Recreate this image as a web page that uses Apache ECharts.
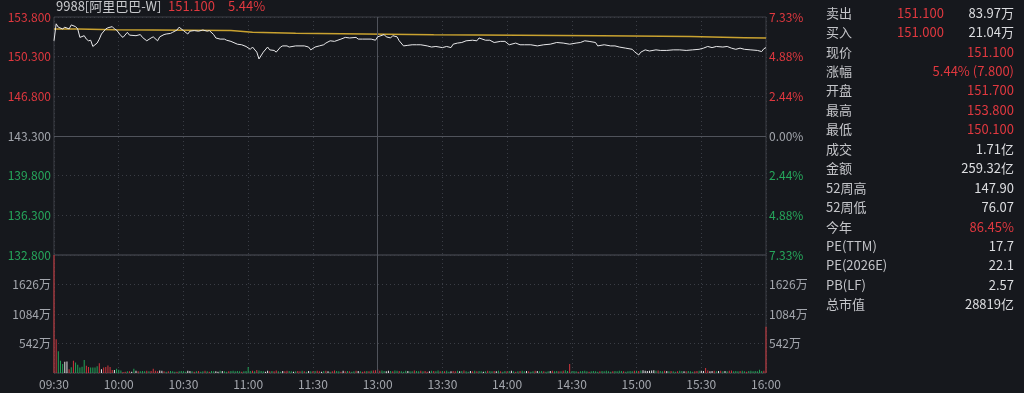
<!DOCTYPE html>
<html><head><meta charset="utf-8">
<script src="https://cdn.jsdelivr.net/npm/echarts@6/dist/echarts.min.js"></script>
<style>html,body{margin:0;padding:0;background:#16181d;}#c{width:1024px;height:393px;}</style>
</head><body><div id="c"></div>
<script>
// ---------- data ----------
const stockTitle = '9988[阿里巴巴-W]';
const lastPrice = '151.100';
const lastPct = '5.44%';
const prevClose = 143.3;
const priceTicks = [132.8, 136.3, 139.8, 143.3, 146.8, 150.3, 153.8];
const volTicks = [0, 542, 1084, 1626, 2168];
const timeLabels = ['09:30','10:00','10:30','11:00','11:30','13:00','13:30','14:00','14:30','15:00','15:30','16:00'];

// minute index (0 = 09:30, 150 = 12:00/13:00, 330 = 16:00)
const priceMin = [0,1,2,4,5,7,8,10,11,12,14,15,16,17,18,20,21,22,24,25,27,28,29,31,32,34,35,38,40,41,43,45,46,48,49,51,52,54,55,57,58,60,62,63,65,67,69,71,72,74,75,77,79,80,82,85,87,89,91,92,94,95,97,99,100,102,103,105,106,108,109,112,116,118,119,121,123,125,126,128,130,133,135,137,140,141,143,147,149,150,153,154,156,157,159,160,162,164,166,168,170,173,175,177,180,182,184,185,187,189,191,194,196,197,200,202,204,207,209,211,214,216,218,221,224,227,230,233,236,239,242,244,246,248,251,252,255,258,260,262,265,268,269,271,272,274,276,279,281,284,287,290,293,296,299,301,303,305,307,310,312,314,316,318,320,323,326,328,329,330];
const priceVal = [151.70,153.20,152.90,152.75,152.90,152.75,153.10,152.95,152.75,152.00,152.15,151.85,151.70,151.75,151.20,151.50,151.85,152.30,152.75,152.85,152.95,152.75,152.65,152.15,152.00,152.45,152.20,152.15,152.25,152.00,151.70,151.95,152.05,151.70,152.05,152.25,152.30,152.35,152.45,152.65,152.90,152.60,152.30,152.55,152.60,152.55,152.65,152.55,152.60,152.25,151.95,151.85,151.85,151.75,151.65,151.40,151.35,151.20,150.95,151.15,150.70,150.10,150.70,151.15,150.90,150.85,150.70,151.15,151.25,151.25,151.15,151.25,151.25,151.15,150.90,151.15,151.25,151.35,151.50,151.70,151.65,151.85,152.00,151.95,152.00,151.85,151.85,151.85,151.75,152.05,152.25,152.05,151.95,152.15,152.05,151.70,151.25,151.30,151.35,151.35,151.35,151.25,151.15,151.20,151.10,151.20,151.10,151.40,151.50,151.55,151.70,151.75,151.70,151.95,151.75,151.75,151.55,151.65,151.65,151.35,151.50,151.35,151.35,151.35,151.25,151.35,151.40,151.55,151.50,151.40,151.50,151.55,151.70,151.65,151.55,151.25,151.35,151.25,151.25,151.15,151.05,150.95,150.75,150.45,150.70,150.90,150.80,150.90,150.85,150.85,150.90,150.90,150.85,150.90,150.95,151.05,151.20,151.10,151.20,151.15,151.20,151.05,150.95,151.05,150.95,150.90,150.85,150.75,151.00,151.10];

const avgMin = [0,11,28,82,92,112,176,254,295,320,330];
const avgVal = [152.74,152.68,152.60,152.45,152.36,152.24,152.15,152.07,151.98,151.94,151.92];

// volume per minute (万), m0..m330
const volumes = [
 2168,620,400,226,165,207,210,70,104,226,195,150,100,115,238,134,110,100,100,100,125,177,70,100,110,140,110,55,55,80,
 60,45,20,25,30,30,25,80,40,30,30,35,30,40,30,35,80,40,30,45,40,30,25,30,35,30,25,25,30,35,
 30,25,40,35,30,25,30,35,25,30,40,30,25,35,30,30,25,40,35,30,25,30,35,40,30,35,30,25,30,35,
 110,35,40,30,55,45,35,30,25,40,30,35,30,45,30,25,35,30,40,35,30,25,30,35,30,40,30,25,35,30,
 30,35,40,30,25,35,40,30,25,30,45,35,30,25,40,30,35,30,25,30,40,35,30,25,30,35,30,40,45,50,
 75,40,45,35,30,40,35,30,45,40,35,30,25,40,35,30,30,45,35,30,40,30,35,25,30,40,35,30,45,30,
 35,30,40,25,30,35,30,40,30,35,45,30,25,35,30,40,30,35,30,25,30,40,35,30,35,30,40,30,25,35,
 30,35,40,30,25,30,35,40,30,35,30,25,30,40,35,30,35,30,25,30,35,40,30,35,30,30,40,50,35,165,
 30,35,30,25,30,35,40,30,25,30,35,30,25,30,35,30,40,30,25,30,35,30,40,35,30,25,30,35,30,40,
 40,35,45,50,40,35,40,45,50,40,45,35,30,40,35,30,35,30,25,30,40,35,30,30,35,30,25,30,35,40,
 40,35,90,45,30,35,40,30,35,40,30,35,30,40,45,30,35,30,35,40,30,25,35,40,30,35,30,60,35,40,
 850
];
// r = up, g = down, w = flat
const volDir = [
 'rrgggwwrgrgggggrrggggrwrrrrrwg',
 'ggrrgrwgwrgggrgrrrrwwrgrgggrgg',
 'ggwwgrgrggrgrggwwgwggrgggggrgg',
 'ggrgrgggwwrgrrggwrrggwgrrgrgwg',
 'rgrrwgrwgrrggrwrgrggrwgrrgrgrr',
 'rrggwwgrggrgggwggrggrgrrwgrggr',
 'grggwrrgwgrggwrgrggwgrggrwgrgg',
 'rgwgrgrggwrggrwggrggwrggrgrggr',
 'gggrggggrggggrgggggrggggrggggr',
 'grgwwwwwwgrggrwgrggrggwrgggrrg',
 'wwrrwwrgwrgwgrrgggrggrgggggggr',
 'r'
].join('');

const panelLabels = ['卖出','买入','现价','涨幅','开盘','最高','最低','成交','金额','52周高','52周低','今年','PE(TTM)','PE(2026E)','PB(LF)','总市值'];
const panelMid    = ['151.100','151.000','','','','','','','','','','','','','',''];
const panelValues = ['83.97万','21.04万','151.100','5.44% (7.800)','151.700','153.800','150.100','1.71亿','259.32亿','147.90','76.07','86.45%','17.7','22.1','2.57','28819亿'];
const panelUp     = [false,false,true,true,true,true,true,false,false,false,false,true,false,false,false,false];

// ---------- styles ----------
const RED = '#e0383f', GREEN = '#26a65b', GRAY = '#a3a6ad', WHITE = '#dcdde0';
const FONT = '"Noto Sans CJK SC","Noto Sans",sans-serif';
const GRID_LEFT = 54, GRID_RIGHT = 258;

function priceColor(v) {
  v = Number(v);
  if (Math.abs(v - prevClose) < 1e-6) return GRAY;
  return v > prevClose ? RED : GREEN;
}
const dirColor = { r: '#d2363d', g: '#22a358', w: '#e4e4e4' };

const pricePairs = priceMin.map((m, i) => [m, priceVal[i]]);
const avgPairs = avgMin.map((m, i) => [m, avgVal[i]]);
const volData = volumes.map((v, i) => ({ value: [i, v], itemStyle: { color: dirColor[volDir[i]] } }));

const graphics = [
  { type: 'text', left: 56, top: 0, style: { text: stockTitle, fill: '#c9cacd', font: '13px ' + FONT } },
  { type: 'text', left: 168, top: 0, style: { text: lastPrice, fill: RED, font: '13px ' + FONT } },
  { type: 'text', left: 228, top: 0, style: { text: lastPct, fill: RED, font: '13px ' + FONT } }
];
panelLabels.forEach((lab, i) => {
  const y = 12.7 + i * 19.45;
  graphics.push({ type: 'text', x: 826, y: y, style: { text: lab, fill: '#c4c5c9', font: '13px ' + FONT, textVerticalAlign: 'middle', textAlign: 'left' } });
  if (panelMid[i]) graphics.push({ type: 'text', x: 944, y: y, style: { text: panelMid[i], fill: RED, font: '13px ' + FONT, textVerticalAlign: 'middle', textAlign: 'right' } });
  graphics.push({ type: 'text', x: 1014, y: y, style: { text: panelValues[i], fill: panelUp[i] ? RED : WHITE, font: '13px ' + FONT, textVerticalAlign: 'middle', textAlign: 'right' } });
});

const dotted = { show: true, lineStyle: { color: '#3a3d45', type: [1, 3], width: 1 } };
const solidMark = { color: '#50535b', type: 'solid', width: 1 };

const option = {
  backgroundColor: '#16181d',
  animation: false,
  textStyle: { fontFamily: FONT },
  graphic: graphics,
  grid: [
    { left: GRID_LEFT, right: GRID_RIGHT, top: 17, height: 238, show: true, borderColor: '#3c3f47', borderWidth: 1 },
    { left: GRID_LEFT, right: GRID_RIGHT, top: 255, height: 118, show: true, borderColor: '#3c3f47', borderWidth: 1 }
  ],
  xAxis: [
    { type: 'value', gridIndex: 0, min: 0, max: 330, interval: 30, axisLabel: { show: false }, axisTick: { show: false }, axisLine: { show: false }, splitLine: dotted },
    { type: 'value', gridIndex: 1, min: 0, max: 330, interval: 30, axisTick: { show: false }, axisLine: { show: false }, splitLine: dotted,
      axisLabel: { color: GRAY, fontSize: 12, margin: 5, formatter: v => timeLabels[Math.round(v / 30)] } }
  ],
  yAxis: [
    { type: 'value', gridIndex: 0, position: 'left', min: priceTicks[0], max: priceTicks[priceTicks.length - 1], interval: 3.5,
      axisLine: { show: false }, axisTick: { show: false }, splitLine: dotted,
      axisLabel: { fontSize: 12, margin: 3, formatter: v => Number(v).toFixed(3), color: v => priceColor(v) } },
    { type: 'value', gridIndex: 0, position: 'right', min: priceTicks[0], max: priceTicks[priceTicks.length - 1], interval: 3.5,
      axisLine: { show: false }, axisTick: { show: false }, splitLine: { show: false },
      axisLabel: { fontSize: 12, margin: 3, formatter: v => Math.abs((v - prevClose) / prevClose * 100).toFixed(2) + '%', color: v => priceColor(v) } },
    { type: 'value', gridIndex: 1, position: 'left', min: volTicks[0], max: volTicks[volTicks.length - 1], interval: 542,
      axisLine: { show: false }, axisTick: { show: false }, splitLine: dotted,
      axisLabel: { fontSize: 12, margin: 3, color: GRAY, formatter: v => (v <= 0 || v >= volTicks[volTicks.length - 1]) ? '' : v + '万' } },
    { type: 'value', gridIndex: 1, position: 'right', min: volTicks[0], max: volTicks[volTicks.length - 1], interval: 542,
      axisLine: { show: false }, axisTick: { show: false }, splitLine: { show: false },
      axisLabel: { fontSize: 12, margin: 3, color: GRAY, formatter: v => (v <= 0 || v >= volTicks[volTicks.length - 1]) ? '' : v + '万' } }
  ],
  series: [
    { type: 'line', xAxisIndex: 0, yAxisIndex: 0, data: pricePairs, symbol: 'none', lineStyle: { color: '#e8e8ea', width: 1 }, z: 5,
      markLine: { silent: true, symbol: 'none', label: { show: false }, lineStyle: solidMark, data: [{ yAxis: prevClose }, { xAxis: 150 }] } },
    { type: 'line', xAxisIndex: 0, yAxisIndex: 0, data: avgPairs, step: 'end', symbol: 'none', lineStyle: { color: '#c9a230', width: 1.5 }, z: 4 },
    { type: 'bar', xAxisIndex: 1, yAxisIndex: 2, data: volData, barWidth: 1,
      markLine: { silent: true, symbol: 'none', label: { show: false }, lineStyle: solidMark, data: [{ xAxis: 150 }] } }
  ]
};

const chart = echarts.init(document.getElementById('c'), null, { renderer: 'canvas' });
chart.setOption(option);
</script>
</body></html>
